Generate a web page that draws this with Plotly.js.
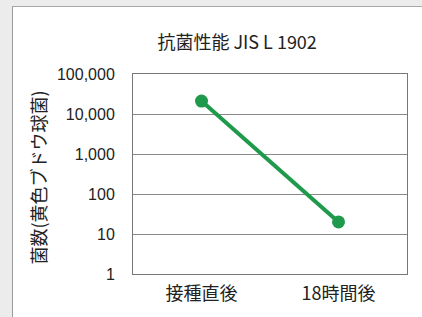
<!DOCTYPE html>
<html><head><meta charset="utf-8">
<script src="https://cdn.plot.ly/plotly-3.0.1.min.js"></script>
<style>
html,body{margin:0;padding:0;background:#ececec;width:422px;height:317px;overflow:hidden;}
#frame{position:absolute;left:12px;top:6px;width:410px;height:311px;background:#fff;border-left:1px solid #9a9a9a;border-top:1px solid #a8a8a8;}
#chart{width:409px;height:310px;}
</style></head>
<body><div id="frame"><div id="chart"></div></div>
<script>
const categories = ['接種直後', '18時間後'];
const bacteriaCount = [21000, 20];
const yTickVals = [1, 10, 100, 1000, 10000, 100000];
const yTickText = ['1', '10', '100', '1,000', '10,000', '100,000'];
const chartTitle = '抗菌性能 JIS L 1902';
const yTitle = '菌数(黄色ブドウ球菌)';

const font = 'Liberation Sans, Arial, Noto Sans CJK JP, sans-serif';
const jp = 'Noto Sans CJK JP, sans-serif';
const trace = {
  x: categories, y: bacteriaCount, type: 'scatter', mode: 'lines+markers',
  line: {color: '#1f9a4c', width: 4},
  marker: {color: '#1f9a4c', size: 13},
  hoverinfo: 'skip'
};
const layout = {
  width: 409, height: 310,
  margin: {l: 120, r: 15, t: 67, b: 43},
  paper_bgcolor: 'rgba(0,0,0,0)', plot_bgcolor: '#fff',
  showlegend: false,
  font: {family: font, color: '#222'},
  title: {text: chartTitle, font: {family: jp, size: 18, color: '#222'},
    x: 0.548, xref: 'container', xanchor: 'center', y: 0.884, yref: 'container', yanchor: 'middle'},
  xaxis: {type: 'category', range: [-0.5, 1.5], showgrid: false, zeroline: false,
    showline: true, mirror: true, linecolor: '#777', linewidth: 1,
    ticks: '', tickfont: {family: jp, size: 18, color: '#222'}, ticklabelstandoff: 3},
  yaxis: {type: 'log', range: [0, 5], tickvals: yTickVals, ticktext: yTickText,
    showgrid: true, gridcolor: '#8a8a8a', gridwidth: 1, zeroline: false,
    showline: true, mirror: true, linecolor: '#777', linewidth: 1,
    ticks: '', tickfont: {family: font, size: 16, color: '#222'}, ticklabelstandoff: 14},
  annotations: [{text: yTitle, xref: 'paper', yref: 'paper', x: -0.345, y: 0.485,
    xanchor: 'center', yanchor: 'middle', textangle: -90, showarrow: false,
    font: {family: jp, size: 18, color: '#222'}}]
};
Plotly.newPlot('chart', [trace], layout, {displayModeBar: false, staticPlot: true});
</script></body></html>
